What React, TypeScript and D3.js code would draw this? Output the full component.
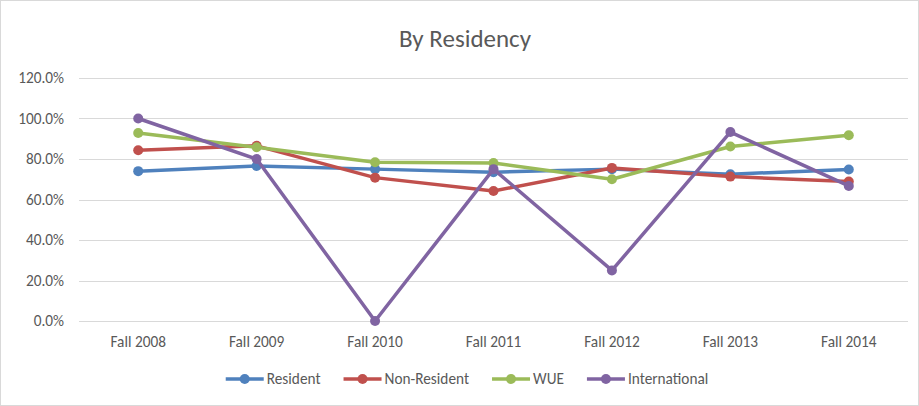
import { useEffect, useRef } from "react";
import * as d3 from "d3";

const terms = ["Fall 2008", "Fall 2009", "Fall 2010", "Fall 2011", "Fall 2012", "Fall 2013", "Fall 2014"];
const resident = [74.0, 76.5, 75.0, 73.5, 75.0, 72.5, 74.8];
const nonResident = [84.3, 86.5, 70.8, 64.2, 75.6, 71.3, 68.9];
const wue = [92.8, 85.8, 78.4, 78.0, 70.0, 86.2, 91.7];
const international = [100, 80.0, 0, 75.0, 25.0, 93.3, 66.7];
const yTicks = [0, 20, 40, 60, 80, 100, 120];

const series = [
  { name: "Resident", values: resident, color: "#4F81BD" },
  { name: "Non-Resident", values: nonResident, color: "#C0504D" },
  { name: "WUE", values: wue, color: "#9BBB59" },
  { name: "International", values: international, color: "#8064A2" },
];

export default function App() {
  const svgRef = useRef<SVGSVGElement>(null);

  useEffect(() => {
    const svg = d3.select(svgRef.current);
    svg.selectAll("*").remove();

    const width = 919;
    const height = 406;
    const margin = { top: 78, right: 11, bottom: 85, left: 79 };
    const font = "Carlito, Calibri, 'Open Sans', sans-serif";
    const fs = 15.3;

    // outer chart frame
    svg
      .append("rect")
      .attr("x", 0.5)
      .attr("y", 0.5)
      .attr("width", width - 1)
      .attr("height", height - 1)
      .attr("fill", "#fff")
      .attr("stroke", "#d9d9d9");

    const x = d3
      .scaleBand()
      .domain(terms)
      .range([margin.left, width - margin.right]);

    const y = d3
      .scaleLinear()
      .domain([0, 120])
      .range([height - margin.bottom, margin.top]);

    // gridlines
    svg
      .append("g")
      .selectAll("line")
      .data(yTicks)
      .enter()
      .append("line")
      .attr("x1", margin.left)
      .attr("x2", width - margin.right)
      .attr("y1", (d) => Math.round(y(d)) + 0.5)
      .attr("y2", (d) => Math.round(y(d)) + 0.5)
      .attr("stroke", "#d9d9d9")
      .attr("stroke-width", 1);

    // y axis labels
    svg
      .append("g")
      .selectAll("text")
      .data(yTicks)
      .enter()
      .append("text")
      .attr("x", 64)
      .attr("y", (d) => y(d) + 5)
      .attr("text-anchor", "end")
      .attr("font-family", font)
      .attr("font-size", fs)
      .attr("fill", "#595959")
      .text((d) => d.toFixed(1) + "%");

    // x axis labels
    svg
      .append("g")
      .selectAll("text")
      .data(terms)
      .enter()
      .append("text")
      .attr("x", (d) => (x(d) as number) + x.bandwidth() / 2)
      .attr("y", height - margin.bottom + 26)
      .attr("text-anchor", "middle")
      .attr("font-family", font)
      .attr("font-size", fs)
      .attr("fill", "#595959")
      .text((d) => d);

    // title
    svg
      .append("text")
      .attr("x", 465)
      .attr("y", 47)
      .attr("text-anchor", "middle")
      .attr("font-family", font)
      .attr("font-size", 25)
      .attr("fill", "#595959")
      .text("By Residency");

    const cx = (i: number) => (x(terms[i]) as number) + x.bandwidth() / 2;
    const line = d3
      .line<number>()
      .x((_, i) => cx(i))
      .y((d) => y(d));

    series.forEach((s) => {
      const g = svg.append("g");
      g.append("path")
        .attr("d", line(s.values))
        .attr("fill", "none")
        .attr("stroke", s.color)
        .attr("stroke-width", 3.5)
        .attr("stroke-linejoin", "round")
        .attr("stroke-linecap", "round");
      g.selectAll("circle")
        .data(s.values)
        .enter()
        .append("circle")
        .attr("cx", (_, i) => cx(i))
        .attr("cy", (d) => y(d))
        .attr("r", 5)
        .attr("fill", s.color);
    });

    // legend
    const legendY = 379;
    const legend = svg.append("g");
    const items = series.map((s) => {
      const item = legend.append("g");
      item
        .append("line")
        .attr("x1", 0)
        .attr("x2", 38)
        .attr("y1", legendY)
        .attr("y2", legendY)
        .attr("stroke", s.color)
        .attr("stroke-width", 3.5);
      item
        .append("circle")
        .attr("cx", 19)
        .attr("cy", legendY)
        .attr("r", 5)
        .attr("fill", s.color);
      const t = item
        .append("text")
        .attr("x", 41)
        .attr("y", legendY + 5)
        .attr("font-family", font)
        .attr("font-size", fs)
        .attr("fill", "#595959")
        .text(s.name);
      const w = 41 + (t.node() as SVGTextElement).getComputedTextLength();
      return { item, w };
    });
    const gap = 23;
    const total = d3.sum(items, (d) => d.w) + gap * (items.length - 1);
    let pos = 467 - total / 2;
    items.forEach((d) => {
      d.item.attr("transform", `translate(${pos},0)`);
      pos += d.w + gap;
    });
  }, []);

  return (
    <svg
      ref={svgRef}
      width={919}
      height={406}
      style={{ position: "absolute", left: 0, top: 0 }}
    />
  );
}
